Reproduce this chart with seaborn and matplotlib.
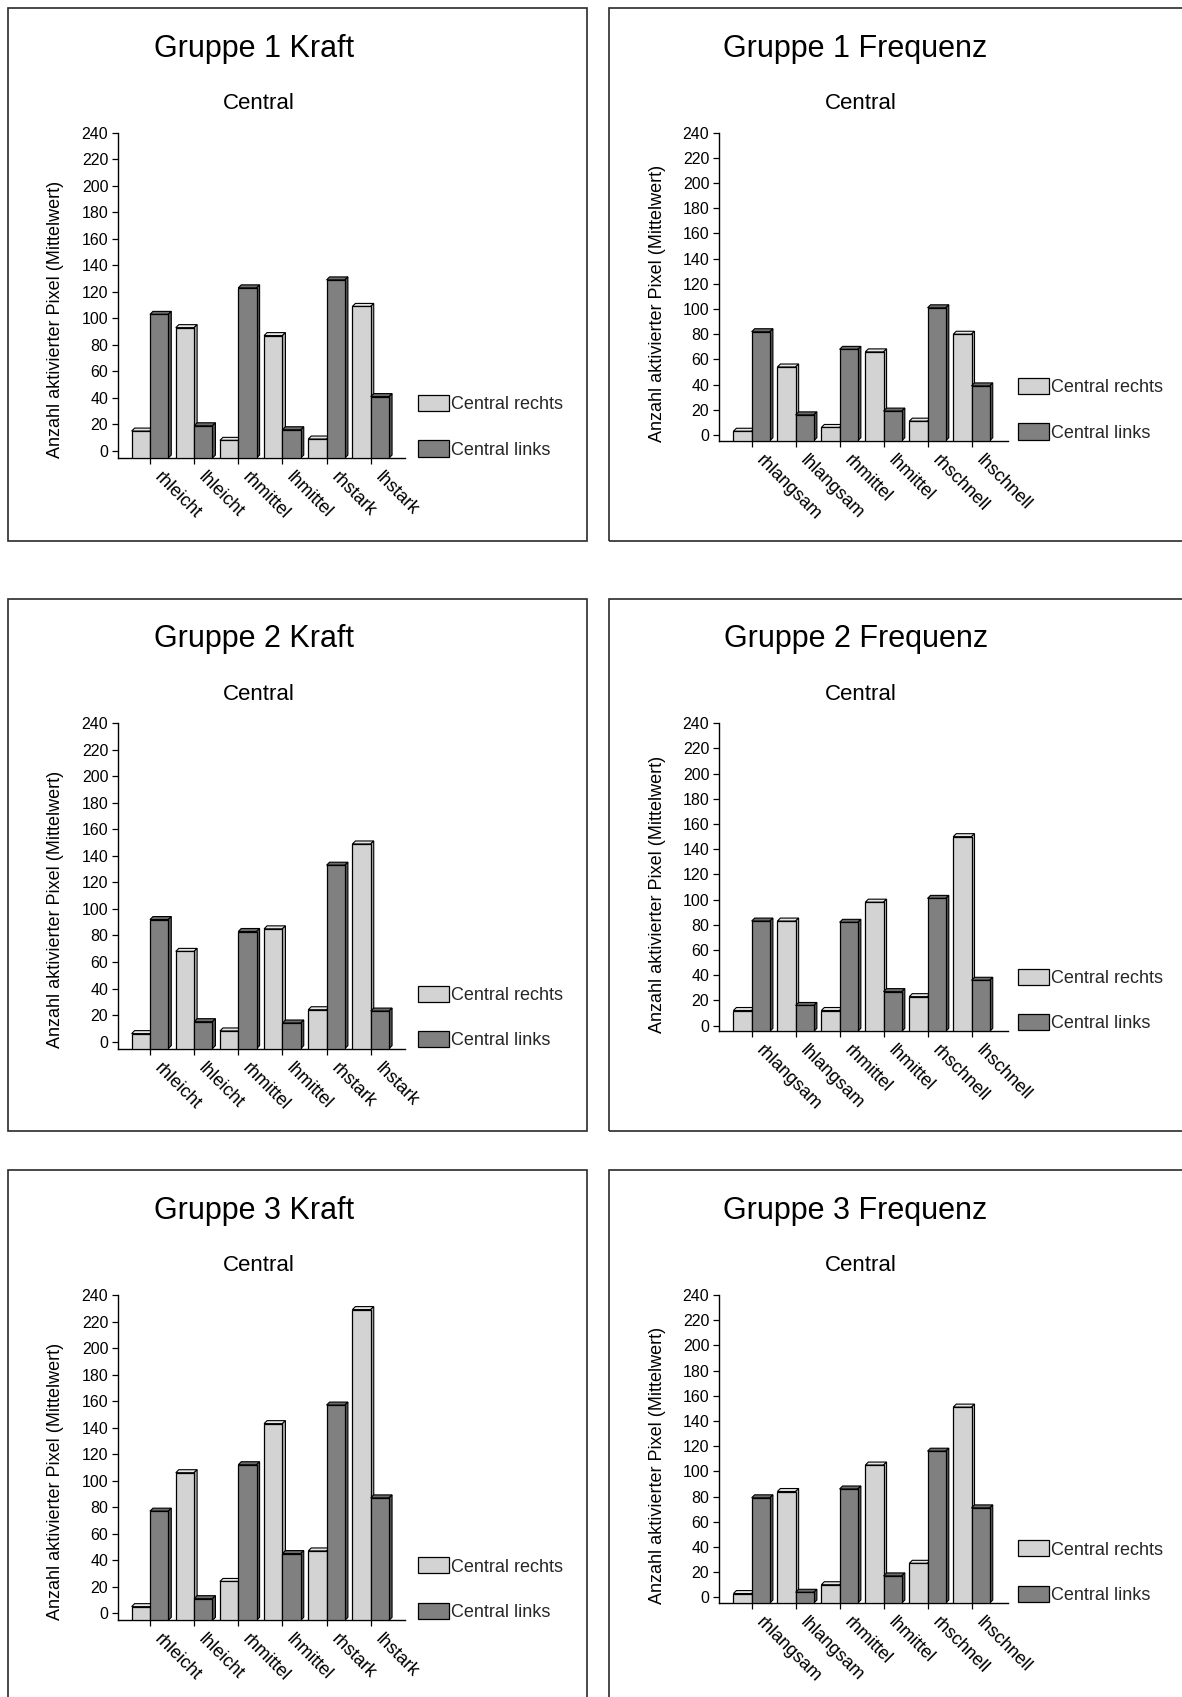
import matplotlib
matplotlib.use("Agg")
import matplotlib.pyplot as plt
import seaborn as sns
import pandas as pd
from matplotlib.patches import Polygon, Rectangle
from matplotlib.transforms import IdentityTransform, ScaledTranslation

# ---------------- data ----------------
series_names = ["Central rechts", "Central links"]
kraft_categories = ["rhleicht", "lhleicht", "rhmittel", "lhmittel", "rhstark", "lhstark"]
freq_categories = ["rhlangsam", "lhlangsam", "rhmittel", "lhmittel", "rhschnell", "lhschnell"]

g1_kraft_rechts = [15, 93, 8, 87, 9, 109]
g1_kraft_links = [103, 19, 123, 16, 129, 41]
g1_freq_rechts = [3, 54, 6, 66, 11, 80]
g1_freq_links = [82, 16, 68, 19, 101, 39]

g2_kraft_rechts = [6, 68, 8, 85, 24, 149]
g2_kraft_links = [92, 15, 83, 14, 133, 23]
g2_freq_rechts = [12, 83, 12, 98, 23, 150]
g2_freq_links = [83, 16, 82, 27, 101, 36]

g3_kraft_rechts = [5, 106, 24, 143, 47, 229]
g3_kraft_links = [77, 11, 112, 45, 157, 87]
g3_freq_rechts = [3, 84, 10, 105, 27, 151]
g3_freq_links = [79, 4, 86, 17, 116, 71]

titles = ["Gruppe 1 Kraft", "Gruppe 1 Frequenz",
          "Gruppe 2 Kraft", "Gruppe 2 Frequenz",
          "Gruppe 3 Kraft", "Gruppe 3 Frequenz"]
subtitle = "Central"
ylabel_text = "Anzahl aktivierter Pixel (Mittelwert)"
y_ticks = list(range(0, 241, 20))

# ---------------- style ----------------
sns.set_theme(style="white")
plt.rcParams['font.family'] = ['Liberation Sans', 'DejaVu Sans']

W, H = 1182, 1697
fig = plt.figure(figsize=(W / 100, H / 100), dpi=100)
fig.patch.set_facecolor("white")


def fx(x):
    return x / W


def fy(y):
    return 1 - y / H


palette = {"Central rechts": "#d3d3d3", "Central links": "#808080"}
top_col = {"Central rechts": "#e6e6e6", "Central links": "#6c6c6c"}
side_col = {"Central rechts": "#b4b4b4", "Central links": "#585858"}

layouts = {
    "kraft": dict(L=118, R=405, T=132.7, B=458, ybot=-5.3, xlim=(-0.724, 5.776),
                  title_x=254.5, sub_x=258.5, ylab_x=56, ylab_y=319,
                  leg_x=418, leg_y=395.0, box=(8, 587.3)),
    "freq": dict(L=719, R=1008, T=132.7, B=440.7, ybot=-4.5, xlim=(-0.743, 5.83),
                 title_x=855.6, sub_x=860.5, ylab_x=658, ylab_y=303.6,
                 leg_x=1018, leg_y=378.0, box=(609.3, 1200)),
}
row_offsets = [0, 590.6, 1162.3]

panels = [
    (titles[0], "kraft", kraft_categories, g1_kraft_rechts, g1_kraft_links, 0),
    (titles[1], "freq", freq_categories, g1_freq_rechts, g1_freq_links, 0),
    (titles[2], "kraft", kraft_categories, g2_kraft_rechts, g2_kraft_links, 1),
    (titles[3], "freq", freq_categories, g2_freq_rechts, g2_freq_links, 1),
    (titles[4], "kraft", kraft_categories, g3_kraft_rechts, g3_kraft_links, 2),
    (titles[5], "freq", freq_categories, g3_freq_rechts, g3_freq_links, 2),
]

D = 3.0  # depth of pseudo-3D extrusion in pixels

for title, kind, cats, rechts, links, row in panels:
    lay = layouts[kind]
    off = row_offsets[row]

    # panel frame
    bx0, bx1 = lay["box"]
    by0, by1 = 8 + off, 540.7 + off
    fig.add_artist(Rectangle((fx(bx0), fy(by1)), (bx1 - bx0) / W, (by1 - by0) / H,
                             transform=fig.transFigure, fill=False,
                             edgecolor="#2a2a2a", linewidth=1.2))

    # titles
    fig.text(fx(lay["title_x"]), fy(48.5 + off), title, ha="center", va="center",
             fontsize=22, color="black")
    fig.text(fx(lay["sub_x"]), fy(103.5 + off), subtitle, ha="center", va="center",
             fontsize=16, color="black")
    fig.text(fx(lay["ylab_x"]), fy(lay["ylab_y"] + off), ylabel_text, rotation=90,
             ha="center", va="center", fontsize=13, color="black")

    ax = fig.add_axes([fx(lay["L"]), fy(lay["B"] + off),
                       (lay["R"] - lay["L"]) / W, (lay["B"] - lay["T"]) / H])
    ax.set_facecolor("none")

    df = pd.DataFrame({
        "Kategorie": cats + cats,
        "Serie": [series_names[0]] * len(cats) + [series_names[1]] * len(cats),
        "Wert": rechts + links,
    })
    sns.barplot(data=df, x="Kategorie", y="Wert", hue="Serie", order=cats,
                hue_order=series_names, palette=palette, saturation=1,
                width=0.83, edgecolor="black", linewidth=0.9, legend=False,
                errorbar=None, ax=ax)

    ybot = lay["ybot"]
    ax.set_xlim(*lay["xlim"])
    ax.set_ylim(ybot, 240)
    ax.set_yticks(y_ticks)
    ax.set_yticklabels([str(t) for t in y_ticks], fontsize=11.5)
    ax.set_xticks(range(len(cats)))
    ax.set_xticklabels(cats, fontsize=13, rotation=-45, ha="left",
                       rotation_mode="anchor")
    ax.set_xlabel("")
    ax.set_ylabel("")
    for s in ["top", "right"]:
        ax.spines[s].set_visible(False)
    for s in ["left", "bottom"]:
        ax.spines[s].set_color("black")
        ax.spines[s].set_linewidth(1.0)
    ax.tick_params(axis="y", direction="out", length=4, width=0.9, pad=3,
                   colors="black", left=True)
    ax.tick_params(axis="x", direction="out", length=4, width=0.9, pad=2,
                   colors="black", bottom=True)
    # shift the rotated category labels so they start right of their tick
    for lab in ax.get_xticklabels():
        lab.set_transform(lab.get_transform() +
                          ScaledTranslation(13 / 100, -2.5 / 100, fig.dpi_scale_trans))

    # bars stand on the floor line; pseudo-3D faces derived from each bar
    bars = []
    for ci, cont in enumerate(ax.containers):
        for p in cont.patches:
            bars.append((p.get_x(), p, series_names[ci]))
    bars.sort(key=lambda b: b[0])
    for k, (_, p, sname) in enumerate(bars):
        h = p.get_height()
        p.set_y(ybot)
        p.set_height(h - ybot)
        p.set_zorder(3 + 2 * k)
        x0, y0 = p.get_x(), p.get_y()
        x1, y1 = x0 + p.get_width(), y0 + p.get_height()
        (X0, Y0), (X1, Y1) = ax.transData.transform([(x0, y0), (x1, y1)])
        top = Polygon([(X0, Y1), (X0 + D, Y1 + D), (X1 + D, Y1 + D), (X1, Y1)],
                      closed=True, transform=IdentityTransform(),
                      facecolor=top_col[sname], edgecolor="black",
                      linewidth=0.8, zorder=2 + 2 * k, clip_on=False)
        side = Polygon([(X1, Y1), (X1 + D, Y1 + D), (X1 + D, Y0 + D), (X1, Y0)],
                       closed=True, transform=IdentityTransform(),
                       facecolor=side_col[sname], edgecolor="black",
                       linewidth=0.8, zorder=2 + 2 * k, clip_on=False)
        ax.add_artist(top)
        ax.add_artist(side)

    ax.legend(handles=list(ax.containers), labels=series_names, loc="upper left",
              bbox_to_anchor=(fx(lay["leg_x"]), fy(lay["leg_y"] + off)),
              bbox_transform=fig.transFigure, frameon=False, fontsize=13,
              handlelength=1.7, handleheight=1.0, handletextpad=0.12,
              labelspacing=1.5, borderpad=0, borderaxespad=0)

fig.savefig("out.png", dpi=100, facecolor="white")
